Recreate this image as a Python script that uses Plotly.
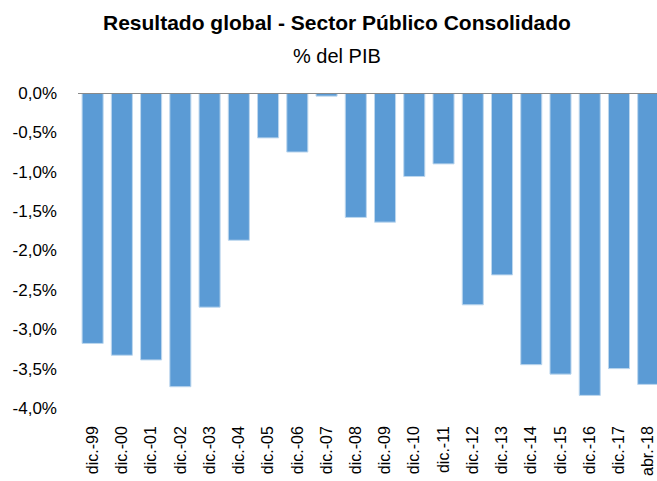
import plotly.graph_objects as go

# Resultado global del Sector Público Consolidado, % del PIB
periodos = ["dic.-99", "dic.-00", "dic.-01", "dic.-02", "dic.-03", "dic.-04",
            "dic.-05", "dic.-06", "dic.-07", "dic.-08", "dic.-09", "dic.-10",
            "dic.-11", "dic.-12", "dic.-13", "dic.-14", "dic.-15", "dic.-16",
            "dic.-17", "abr.-18"]
resultado = [-3.18, -3.33, -3.39, -3.73, -2.72, -1.87, -0.57, -0.75, -0.04,
             -1.58, -1.64, -1.06, -0.90, -2.69, -2.31, -3.45, -3.57, -3.84,
             -3.50, -3.70]

y_ticks = [0, -0.5, -1.0, -1.5, -2.0, -2.5, -3.0, -3.5, -4.0]
y_tick_labels = ["0,0%", "-0,5%", "-1,0%", "-1,5%", "-2,0%", "-2,5%",
                 "-3,0%", "-3,5%", "-4,0%"]

font_title = "Liberation Sans Narrow, Liberation Sans, Arial, sans-serif"
font_ticks = "Liberation Sans, Arial, sans-serif"

fig = go.Figure(
    go.Bar(
        x=list(range(len(periodos))),
        y=resultado,
        marker=dict(color="#5B9BD5", line=dict(color="#BDD7EE", width=1)),
        hoverinfo="x+y",
    )
)

fig.update_layout(
    width=657,
    height=481,
    margin=dict(l=78, r=0, t=93, b=73),
    paper_bgcolor="white",
    plot_bgcolor="white",
    bargap=0.28,
    showlegend=False,
    font=dict(family=font_ticks, color="#000000"),
    xaxis=dict(
        tickmode="array",
        tickvals=list(range(len(periodos))),
        ticktext=periodos,
        tickangle=-90,
        tickfont=dict(family=font_ticks, size=16, color="#000000"),
        range=[-0.5, 19.3],
        showgrid=False,
        showline=False,
        zeroline=False,
        ticks="",
        ticklabelstandoff=14,
    ),
    yaxis=dict(
        range=[-4.0, 0.0],
        tickmode="array",
        tickvals=y_ticks,
        ticktext=y_tick_labels,
        tickfont=dict(family=font_ticks, size=17, color="#000000"),
        showgrid=False,
        zeroline=False,
        showline=False,
        ticks="",
        ticklabelstandoff=20,
    ),
    shapes=[
        dict(type="line", xref="paper", yref="y", x0=0, x1=1, y0=0, y1=0,
             line=dict(color="#898989", width=2), layer="above")
    ],
    annotations=[
        dict(text="<b>Resultado global - Sector Público Consolidado</b>",
             xref="paper", yref="paper", x=0.448, y=1.0, yshift=71,
             xanchor="center", yanchor="middle", showarrow=False,
             font=dict(family=font_title, size=21, color="#000000")),
        dict(text="% del PIB",
             xref="paper", yref="paper", x=0.448, y=1.0, yshift=37,
             xanchor="center", yanchor="middle", showarrow=False,
             font=dict(family=font_title, size=20, color="#000000")),
    ],
)

fig.write_html("out.html")
